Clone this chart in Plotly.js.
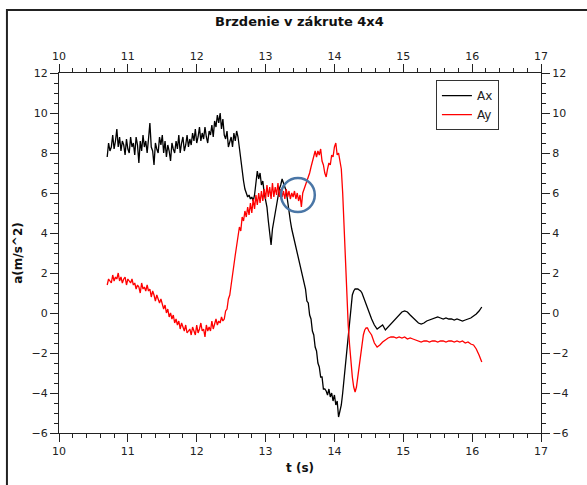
<!DOCTYPE html>
<html><head><meta charset="utf-8">
<script src="https://cdn.plot.ly/plotly-3.0.1.min.js"></script>
<style>html,body{margin:0;padding:0;background:#fff}</style>
</head><body>
<div id="chart" style="width:587px;height:485px"></div>
<script>
const chartTitle = 'Brzdenie v zákrute 4x4';
const seriesNames = ['Ax', 'Ay'];
const xTicks = [10, 11, 12, 13, 14, 15, 16, 17];
const yTicks = [-6, -4, -2, 0, 2, 4, 6, 8, 10, 12];

const t = [
10.70,10.72,10.74,10.76,10.78,10.80,10.82,10.84,10.86,10.88,
10.90,10.92,10.94,10.96,10.98,11.00,11.02,11.04,11.06,11.08,
11.10,11.12,11.14,11.16,11.18,11.20,11.22,11.24,11.26,11.28,
11.30,11.32,11.34,11.36,11.38,11.40,11.42,11.44,11.46,11.48,
11.50,11.52,11.54,11.56,11.58,11.60,11.62,11.64,11.66,11.68,
11.70,11.72,11.74,11.76,11.78,11.80,11.82,11.84,11.86,11.88,
11.90,11.92,11.94,11.96,11.98,12.00,12.02,12.04,12.06,12.08,
12.10,12.12,12.14,12.16,12.18,12.20,12.22,12.24,12.26,12.28,
12.30,12.32,12.34,12.36,12.38,12.40,12.42,12.44,12.46,12.48,
12.50,12.52,12.54,12.56,12.58,12.60,12.62,12.64,12.66,12.68,
12.70,
12.72,12.74,12.76,12.78,12.80,12.82,12.84,12.86,12.88,12.90,
12.92,12.94,12.96,12.98,13.00,13.02,13.04,13.06,13.08,13.10,
13.12,13.14,13.16,13.18,13.20,13.22,13.24,13.26,13.28,13.30,
13.32,13.34,13.36,13.38,13.40,13.42,13.44,13.46,13.48,13.50,
13.52,13.54,13.56,13.58,13.60,13.62,13.64,13.66,13.68,13.70,
13.72,13.74,13.76,13.78,13.80,13.82,13.84,13.86,13.88,13.90,
13.92,13.94,13.96,13.98,14.00,14.02,14.04,14.06,14.08,14.10,
14.12,14.14,14.16,14.18,14.20,14.22,14.24,14.26,14.28,14.30,
14.32,14.34,14.36,14.38,14.40,14.42,14.44,14.46,14.48,14.50,
14.54,14.58,14.62,14.66,14.70,14.74,14.78,14.82,14.86,14.90,
14.94,14.98,15.02,15.06,15.10,15.14,15.18,15.22,15.26,15.30,
15.34,15.38,15.42,15.46,15.50,15.54,15.58,15.62,15.66,15.70,
15.74,15.78,15.82,15.86,15.90,15.94,15.98,16.02,16.06,16.10,
16.14
];

const ax = [
7.8,8.5,8.1,8.3,8.9,8.2,8.6,9.2,8.3,8.8,
8.1,8.6,8.4,7.9,8.7,8.2,8.0,8.8,8.3,8.5,
7.9,8.8,8.4,7.5,8.6,8.1,8.9,8.3,8.6,8.0,
8.7,9.5,8.3,8.1,7.4,8.5,8.2,8.0,8.8,8.4,
8.9,8.0,8.6,7.8,8.4,8.1,7.6,8.5,8.2,8.0,
8.6,8.2,8.9,8.0,8.5,8.8,8.1,8.4,8.9,8.3,
8.7,8.4,9.0,8.6,9.2,8.5,8.8,9.3,8.6,9.0,
8.7,9.3,8.8,8.5,9.1,8.9,9.4,8.8,9.6,9.3,
9.9,9.5,10.0,9.2,9.7,8.9,8.7,9.1,8.3,8.6,
8.8,8.3,9.0,8.6,9.1,8.8,8.2,7.6,7.1,6.6,
6.2,
6.0,5.8,5.9,5.7,5.8,5.6,5.9,6.6,7.1,6.7,
7.0,6.4,6.6,6.0,5.7,5.3,4.6,3.9,3.4,4.2,
4.7,5.0,5.4,5.9,6.2,6.4,6.7,6.5,6.3,6.1,
5.6,5.0,4.6,4.2,3.9,3.6,3.2,2.9,2.6,2.3,
2.0,1.8,1.4,1.2,0.6,0.5,-0.1,-0.3,-0.9,-1.1,
-1.7,-1.9,-2.5,-2.7,-3.2,-3.2,-3.8,-3.8,-3.9,-4.1,
-3.8,-4.2,-4.0,-4.4,-4.1,-4.6,-4.4,-5.2,-4.9,-4.6,
-4.0,-3.3,-2.5,-1.7,-0.9,-0.2,0.5,0.9,1.1,1.2,
1.2,1.2,1.15,1.1,1.0,0.8,0.6,0.4,0.2,0.0,
-0.3,-0.6,-0.8,-0.7,-0.6,-0.85,-0.7,-0.5,-0.35,-0.2,
-0.05,0.05,0.1,0.05,-0.1,-0.25,-0.4,-0.5,-0.55,-0.5,
-0.4,-0.35,-0.3,-0.25,-0.2,-0.25,-0.3,-0.25,-0.3,-0.3,
-0.35,-0.3,-0.35,-0.4,-0.35,-0.3,-0.25,-0.15,-0.05,0.1,
0.3
];

const ay = [
1.4,1.7,1.6,1.5,1.9,1.6,1.8,1.7,2.0,1.6,
1.8,1.5,1.7,1.8,1.4,1.7,1.6,1.5,1.7,1.4,
1.5,1.2,1.4,1.3,1.0,1.5,1.2,1.3,1.1,1.4,
1.1,1.2,0.8,1.1,0.9,0.6,0.9,0.7,0.5,0.7,
0.4,0.2,0.4,0.0,0.2,-0.2,0.0,-0.3,-0.1,-0.5,
-0.3,-0.6,-0.4,-0.8,-0.5,-0.7,-0.9,-0.6,-1.0,-0.9,
-0.8,-1.1,-0.7,-0.9,-1.1,-0.6,-1.0,-0.8,-0.5,-0.9,
-0.8,-1.2,-0.6,-0.9,-0.7,-0.9,-0.4,-0.8,-0.6,-0.3,
-0.6,-0.4,-0.5,-0.2,-0.4,-0.3,0.1,0.2,0.7,0.9,
1.4,1.8,2.4,2.9,3.3,3.8,4.3,4.1,4.8,4.6,
5.1,
4.8,5.3,4.9,5.5,5.0,5.7,5.2,5.9,5.4,6.0,
5.5,6.1,5.6,6.2,5.7,6.4,5.8,6.3,5.7,6.5,
5.8,6.3,5.9,6.5,5.8,6.2,5.8,6.1,5.7,6.2,
5.8,6.1,5.7,6.0,5.8,6.1,5.7,6.0,5.6,5.9,
5.3,6.0,6.2,6.4,6.5,6.8,7.0,7.3,7.6,7.9,
8.1,7.8,8.1,7.9,8.2,7.6,7.4,7.0,6.8,7.2,
7.5,7.4,7.9,7.8,8.3,8.5,7.9,8.0,7.5,7.2,
6.0,4.2,2.3,0.7,-0.6,-1.6,-2.5,-3.2,-3.7,-3.95,
-3.7,-3.2,-2.6,-2.0,-1.5,-1.1,-0.85,-0.75,-0.75,-0.9,
-1.1,-1.5,-1.7,-1.6,-1.45,-1.35,-1.25,-1.2,-1.2,-1.25,
-1.2,-1.25,-1.2,-1.3,-1.25,-1.3,-1.35,-1.4,-1.45,-1.4,
-1.4,-1.45,-1.4,-1.4,-1.45,-1.4,-1.4,-1.45,-1.4,-1.4,
-1.45,-1.4,-1.45,-1.4,-1.5,-1.45,-1.55,-1.6,-1.8,-2.1,
-2.45
];

const FONT = 'DejaVu Sans, Verdana, sans-serif';
const AXC = '#222';
const tickFont = {family: FONT, size: 11, color: '#222'};

function xAxisCfg(side) {
  return {
    range: [10, 17], tickmode: 'array', tickvals: xTicks, ticktext: xTicks.map(String),
    ticks: 'outside', ticklen: 8, tickwidth: 1, tickcolor: AXC,
    showline: true, linecolor: AXC, linewidth: 1, showgrid: false, zeroline: false,
    minor: {tickmode: 'linear', tick0: 10, dtick: 0.2, ticks: 'outside', ticklen: 4, tickcolor: AXC, showgrid: false},
    tickfont: tickFont, side: side, fixedrange: true
  };
}
function yAxisCfg(side) {
  return {
    range: [-6, 12], tickmode: 'array', tickvals: yTicks, ticktext: yTicks.map(v => v < 0 ? '\u2212' + Math.abs(v) : String(v)),
    ticks: 'outside', ticklen: 8, tickwidth: 1, tickcolor: AXC,
    showline: true, linecolor: AXC, linewidth: 1, showgrid: false, zeroline: false,
    minor: {tickmode: 'linear', tick0: -6, dtick: 0.5, ticks: 'outside', ticklen: 4, tickcolor: AXC, showgrid: false},
    tickfont: tickFont, side: side, fixedrange: true
  };
}

const traces = [
  {x: t, y: ax, name: seriesNames[0], type: 'scatter', mode: 'lines', line: {color: '#000000', width: 1.3}},
  {x: t, y: ay, name: seriesNames[1], type: 'scatter', mode: 'lines', line: {color: '#ff0000', width: 1.3}},
  {x: [], y: [], xaxis: 'x2', yaxis: 'y2', showlegend: false, hoverinfo: 'skip', type: 'scatter'}
];

const xa = xAxisCfg('bottom');
xa.title = {text: '<b>t (s)</b>', font: {family: FONT, size: 12, color: '#111'}, standoff: 6};
const ya = yAxisCfg('left');
ya.title = {text: '<b>a(m/s^2)</b>', font: {family: FONT, size: 12, color: '#111'}, standoff: 6};
const xa2 = xAxisCfg('top'); xa2.overlaying = 'x'; xa2.anchor = 'y';
const ya2 = yAxisCfg('right'); ya2.overlaying = 'y'; ya2.anchor = 'x';

const layout = {
  width: 587, height: 485,
  margin: {l: 59, r: 46, t: 73, b: 52},
  paper_bgcolor: '#ffffff', plot_bgcolor: '#ffffff',
  title: {text: '<b>' + chartTitle + '</b>', font: {family: FONT, size: 13, color: '#111'}, x: 0.51, xanchor: 'center', y: 0.955, yanchor: 'middle'},
  xaxis: xa, yaxis: ya, xaxis2: xa2, yaxis2: ya2,
  showlegend: true,
  legend: {x: 0.782, y: 0.98, xanchor: 'left', yanchor: 'top', bgcolor: '#ffffff', bordercolor: '#333', borderwidth: 1,
           font: {family: FONT, size: 12, color: '#222'}, tracegroupgap: 0, itemwidth: 30},
  shapes: [
    {type: 'circle', xref: 'x', yref: 'y', x0: 13.225, x1: 13.715, y0: 5.05, y1: 6.75, line: {color: '#4a76a6', width: 2.5}},
    {type: 'rect', xref: 'paper', yref: 'paper', x0: -0.108, x1: 1.2, y0: -0.3, y1: 1.175, line: {color: '#222', width: 2}, fillcolor: 'rgba(0,0,0,0)', layer: 'below'}
  ]
};

Plotly.newPlot('chart', traces, layout, {staticPlot: true, displayModeBar: false});
</script>
</body></html>
